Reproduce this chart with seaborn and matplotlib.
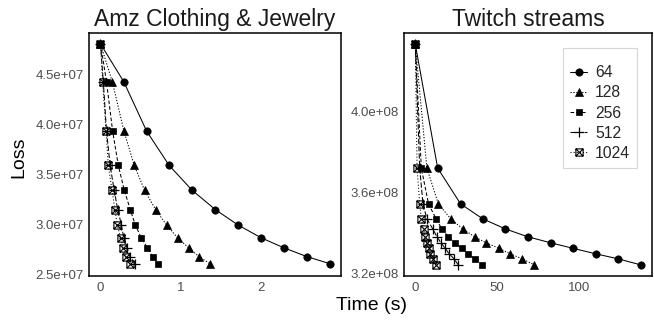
import numpy as np
import pandas as pd
import matplotlib
matplotlib.use("Agg")
import matplotlib.pyplot as plt
import seaborn as sns
from matplotlib.path import Path
from matplotlib.lines import Line2D
from matplotlib.ticker import FuncFormatter, FixedLocator

# ---------------- data ----------------
batch_sizes = ["64", "128", "256", "512", "1024"]

amz_loss = [4.807e7, 4.428e7, 3.936e7, 3.593e7, 3.346e7, 3.152e7,
            3.000e7, 2.871e7, 2.772e7, 2.683e7, 2.614e7]
amz_time_64 = [0, 0.29, 0.574, 0.855, 1.14, 1.43, 1.71, 2.0, 2.28, 2.57, 2.85]
amz_time_128 = [0, 0.147, 0.292, 0.42, 0.549, 0.686, 0.822, 0.959, 1.096, 1.228, 1.36]
amz_time_256 = [0, 0.075, 0.151, 0.222, 0.296, 0.371, 0.433, 0.507, 0.582, 0.648, 0.718]
amz_time_512 = [0, 0.035, 0.075, 0.12, 0.17, 0.215, 0.26, 0.29, 0.33, 0.37, 0.425]
amz_time_1024 = [0, 0.027, 0.068, 0.097, 0.143, 0.18, 0.209, 0.25, 0.283, 0.317, 0.366]

twitch_loss = [4.334e8, 3.720e8, 3.543e8, 3.469e8, 3.419e8, 3.380e8,
               3.350e8, 3.323e8, 3.296e8, 3.271e8, 3.241e8]
twitch_time_64 = [0, 13.7, 27.7, 41.3, 55.1, 68.9, 83.0, 96.5, 110.3, 124.1, 137.9]
twitch_time_128 = [0, 7.1, 14.1, 21.7, 29.1, 36.3, 43.5, 51.1, 58.1, 65.3, 72.9]
twitch_time_256 = [0, 3.7, 8.1, 12.7, 16.3, 20.3, 24.1, 28.3, 32.1, 36.3, 40.7]
twitch_time_512 = [0, 2.7, 4.7, 7.1, 10.7, 13.3, 15.7, 18.3, 20.7, 23.7, 26.3]
twitch_time_1024 = [0, 1.1, 2.7, 3.7, 5.1, 6.1, 7.1, 8.1, 9.3, 10.7, 12.7]

amz_yticks = [2.5e7, 3.0e7, 3.5e7, 4.0e7, 4.5e7]
twitch_yticks = [3.2e8, 3.6e8, 4.0e8]
amz_xticks = [0, 1, 2]
twitch_xticks = [0, 50, 100]

titles = ["Amz Clothing & Jewelry", "Twitch streams"]

# ---------------- style ----------------
sns.set_theme(style="white")
plt.rcParams["font.family"] = ["Liberation Sans", "DejaVu Sans"]

# square with an X inside (ggplot shape 7)
boxx = Path([(-1, -1), (1, -1), (1, 1), (-1, 1), (-1, -1),
             (-1, -1), (1, 1), (-1, 1), (1, -1)],
            [Path.MOVETO, Path.LINETO, Path.LINETO, Path.LINETO, Path.CLOSEPOLY,
             Path.MOVETO, Path.LINETO, Path.MOVETO, Path.LINETO])

styles = {
    "64":   dict(marker="o", ms=5.3, ls="-", mfc="black", mew=0.5),
    "128":  dict(marker="^", ms=5.8, ls=(0, (1.2, 1.6)), mfc="black", mew=0.5),
    "256":  dict(marker="s", ms=4.6, ls=(0, (3.5, 2)), mfc="black", mew=0.5),
    "512":  dict(marker="+", ms=7.0, ls=(0, (5, 2)), mfc="none", mew=0.9),
    "1024": dict(marker=boxx, ms=5.2, ls=(0, (1, 2)), mfc="none", mew=0.8),
}

fig = plt.figure(figsize=(6.54, 3.2), dpi=100)
ax1 = fig.add_axes([89/654, 44/320, 252/654, 243/320])
ax2 = fig.add_axes([404/654, 44/320, 248/654, 243/320])

panels = [
    (ax1, amz_loss, [amz_time_64, amz_time_128, amz_time_256, amz_time_512, amz_time_1024]),
    (ax2, twitch_loss, [twitch_time_64, twitch_time_128, twitch_time_256, twitch_time_512, twitch_time_1024]),
]

for ax, loss, times in panels:
    for bs, t in zip(batch_sizes, times):
        st = styles[bs]
        df = pd.DataFrame({"time": t, "loss": loss})
        sns.lineplot(data=df, x="time", y="loss", ax=ax, color="black",
                     linestyle=st["ls"], linewidth=0.75,
                     marker=st["marker"], markersize=st["ms"],
                     markerfacecolor=st["mfc"], markeredgecolor="black",
                     markeredgewidth=st["mew"], legend=False)

for ax, title in zip([ax1, ax2], titles):
    ax.set_title(title, fontsize=16.5, color="#1a1a1a", pad=5)
    ax.set_xlabel("")
    ax.set_ylabel("")
    ax.tick_params(length=0, labelsize=9.5, labelcolor="#4d4d4d", pad=4)
    ax.yaxis.set_major_formatter(FuncFormatter(lambda v, p: f"{v:.1e}"))
    for sp in ax.spines.values():
        sp.set_color("black")
        sp.set_linewidth(1.1)
    ax.grid(False)

ax1.set_xlim(-0.143, 2.993)
ax1.set_ylim(2.49e7, 4.915e7)
ax1.yaxis.set_major_locator(FixedLocator(amz_yticks))
ax1.xaxis.set_major_locator(FixedLocator(amz_xticks))

ax2.set_xlim(-6.9, 144.8)
ax2.set_ylim(3.186e8, 4.389e8)
ax2.yaxis.set_major_locator(FixedLocator(twitch_yticks))
ax2.xaxis.set_major_locator(FixedLocator(twitch_xticks))

fig.text(371/654, 1 - 305/320, "Time (s)", ha="center", va="center",
         fontsize=14, color="black")
fig.text(19/654, 1 - 157/320, "Loss", ha="center", va="center",
         rotation=90, fontsize=14, color="black")

handles = []
for bs in batch_sizes:
    st = styles[bs]
    handles.append(Line2D([], [], color="black", linestyle=st["ls"], linewidth=0.75,
                          marker=st["marker"], markersize=st["ms"],
                          markerfacecolor=st["mfc"], markeredgecolor="black",
                          markeredgewidth=st["mew"]))
leg = ax2.legend(handles, batch_sizes, loc="upper left",
                 bbox_to_anchor=(563/654, 1 - 48/320), bbox_transform=fig.transFigure,
                 borderaxespad=0, fontsize=11.3, frameon=True, fancybox=False,
                 handlelength=1.1, handletextpad=0.5, labelspacing=0.33,
                 borderpad=0.45, title=" ", title_fontsize=4.5, markerscale=1.0)
leg.get_frame().set_edgecolor("#cccccc")
leg.get_frame().set_linewidth(0.8)

fig.savefig("out.png", dpi=100)
